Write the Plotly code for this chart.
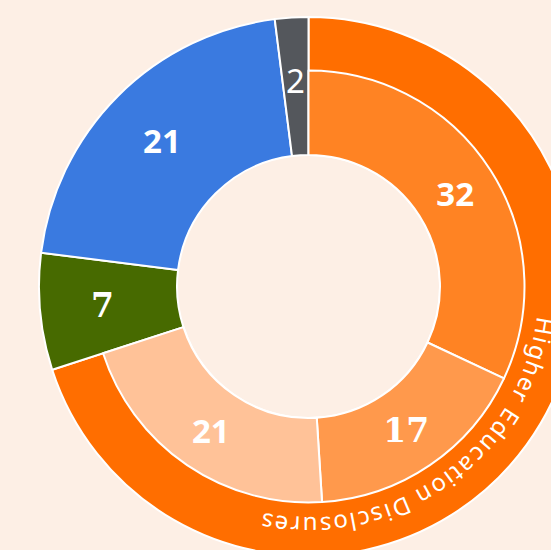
import math
import plotly.graph_objects as go

# ---- data ----
parent_label = "Higher Education Disclosures"
child_labels = ["HED group 1", "HED group 2", "HED group 3"]
child_values = [32, 17, 21]
other_labels = ["Group 4", "Group 5", "Group 6"]
other_values = [7, 21, 2]

# ---- style ----
bg = "#fdefe5"
parent_color = "#ff6e00"
child_colors = ["#ff8323", "#ff994c", "#ffc298"]
other_colors = ["#476a00", "#3a7ae0", "#54575c"]
transparent = "rgba(0,0,0,0)"

W, H = 578, 556
ML, MT = 39, 17
side = min(W - ML, H - MT)  # square plot area
R_OUT = side / 2
R_MID = 216
R_HOLE = 131.5

outer_values = [sum(child_values)] + other_values
outer_labels = [parent_label] + other_labels

inner_values = child_values + other_values
inner_labels = child_labels + [l + " " for l in other_labels]
inner_text = [str(v) for v in child_values] + ["", "", ""]

sans = "Noto Sans"
serif = "DejaVu Serif"

fig = go.Figure()
fig.add_trace(go.Pie(
    labels=outer_labels, values=outer_values,
    textinfo="none",
    sort=False, direction="clockwise", rotation=0,
    hole=R_HOLE / R_OUT,
    marker=dict(colors=[parent_color] + other_colors, line=dict(color="white", width=2)),
    domain=dict(x=[0, 1], y=[0, 1]),
    showlegend=False, hoverinfo="label+value",
))
f = R_MID / R_OUT
fig.add_trace(go.Pie(
    labels=inner_labels, values=inner_values, text=inner_text,
    textinfo="text", textposition="inside", insidetextorientation="horizontal",
    sort=False, direction="clockwise", rotation=0,
    hole=R_HOLE / R_MID,
    marker=dict(colors=child_colors + [transparent] * 3,
                line=dict(color=["white"] * 3 + [transparent] * 3, width=[2, 2, 2, 0, 0, 0])),
    textfont=dict(family=[sans, serif, sans, sans, sans, sans], size=33, color="white", weight="bold"),
    domain=dict(x=[0.5 - f / 2, 0.5 + f / 2], y=[0.5 - f / 2, 0.5 + f / 2]),
    showlegend=False, hoverinfo="label+value",
))

annotations = []

# labels of the full-depth slices, at their mid angles
total = sum(outer_values)
label_fonts = [dict(family=serif, weight="bold"), dict(family=sans, weight="bold"),
               dict(family=sans, weight="normal")]
r_lab = (R_HOLE + R_OUT) / 2 + 6
cum = outer_values[0]
for v, lf in zip(other_values, label_fonts):
    mid_deg = 360 * (cum + v / 2) / total
    cum += v
    annotations.append(dict(
        x=0.5 + r_lab / side * math.sin(math.radians(mid_deg)),
        y=0.5 + r_lab / side * math.cos(math.radians(mid_deg)),
        xref="paper", yref="paper", text=str(v), showarrow=False,
        xanchor="center", yanchor="middle",
        font=dict(size=33, color="white", **lf)))

# curved parent label along the outer ring
char_w = {"H": .738, "i": .258, "g": .613, "h": .618, "e": .561, "r": .411, " ": .26,
          "E": .556, "d": .613, "u": .618, "c": .48, "a": .561, "t": .361, "o": .603,
          "n": .618, "D": .694, "s": .479, "l": .258}
fs, ls, r_txt, start_deg = 24, 2.4, 240, 99.6
pos = 0.0
prev = None
for ch in parent_label:
    w = char_w.get(ch, 0.55)
    if prev is not None:
        pos += (prev + w) / 2 * fs + ls
    prev = w
    th = start_deg + math.degrees(pos / r_txt)
    rp = r_txt / side
    x = 0.5 + rp * math.sin(math.radians(th))
    y = 0.5 + rp * math.cos(math.radians(th))
    if ch != " ":
        annotations.append(dict(x=x, y=y, xref="paper", yref="paper", text=ch,
                                showarrow=False, textangle=th, xanchor="center", yanchor="middle",
                                font=dict(family=sans, size=fs, color="white")))

fig.update_layout(
    width=W, height=H,
    margin=dict(l=ML, t=MT, r=W - ML - side, b=H - MT - side),
    paper_bgcolor=bg, plot_bgcolor=bg,
    annotations=annotations,
)

fig.write_html("out.html", config={"displayModeBar": False},
               post_script="document.body.style.margin='0';document.body.style.overflow='hidden';"
                           "document.documentElement.style.overflow='hidden';"
                           "document.body.style.background='" + bg + "';")
